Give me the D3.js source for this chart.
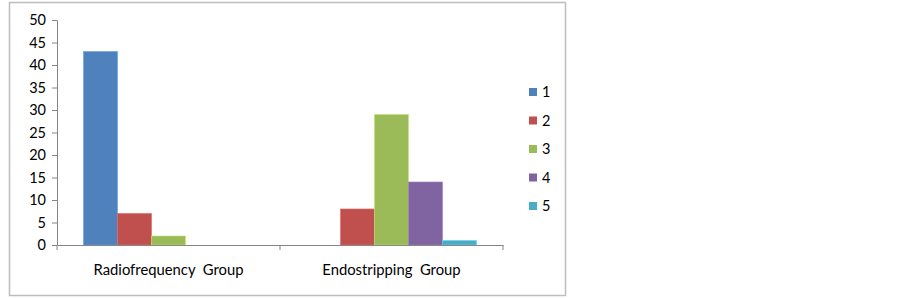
<!DOCTYPE html>
<html><head><meta charset="utf-8">
<script src="https://cdn.jsdelivr.net/npm/d3@7"></script>
<style>body{margin:0;background:#fff}svg{display:block}text{font-family:Lato,"Open Sans",sans-serif;fill:#000}</style>
</head><body><svg id="c" width="902" height="298"></svg>
<script>
const categories = ["Radiofrequency  Group", "Endostripping  Group"];
const seriesNames = ["1", "2", "3", "4", "5"];
const series1 = [43, 0];
const series2 = [7, 8];
const series3 = [2, 29];
const series4 = [0, 14];
const series5 = [0, 1];
const yTicks = [0, 5, 10, 15, 20, 25, 30, 35, 40, 45, 50];
const colors = ["#4F81BD", "#C0504D", "#9BBB59", "#8064A2", "#4BACC6"];
const allSeries = [series1, series2, series3, series4, series5];

(function () {
const svg = d3.select("#c");
svg.append("rect").attr("x", 9.5).attr("y", 2.5).attr("width", 556).attr("height", 293)
  .attr("fill", "#fff").attr("stroke", "#BDBDBD").attr("stroke-width", 1.5);

const pLeft = 57, pRight = 503, pTop = 20, pBottom = 245;
const x0 = d3.scaleBand().domain(categories).range([pLeft, pRight]).paddingInner(0).paddingOuter(0);
const x1 = d3.scaleBand().domain(seriesNames).range([0, x0.bandwidth()]).paddingInner(0).paddingOuter(0.78);
const y = d3.scaleLinear().domain([0, 50]).range([pBottom, pTop]);

const g = svg.append("g");
categories.forEach((c, ci) => {
  allSeries.forEach((s, si) => {
    if (s[ci] <= 0) return;
    g.append("rect")
      .attr("x", x0(c) + x1(seriesNames[si]))
      .attr("y", y(s[ci]))
      .attr("width", x1.bandwidth())
      .attr("height", y(0) - y(s[ci]))
      .attr("fill", colors[si])
      .attr("stroke", d3.color(colors[si]).brighter(0.6))
      .attr("stroke-width", 0.6);
  });
});

const yAxis = svg.append("g").attr("transform", `translate(${pLeft},0)`)
  .call(d3.axisLeft(y).tickValues(yTicks).tickSize(5).tickPadding(6));
yAxis.select(".domain").attr("stroke", "#868686");
yAxis.selectAll(".tick line").attr("stroke", "#868686");
yAxis.selectAll("text").attr("font-size", 14.5).style("font-family", "Lato, 'Open Sans', sans-serif");

const xAxis = svg.append("g").attr("transform", `translate(0,${pBottom})`)
  .call(d3.axisBottom(x0).tickSize(0).tickFormat(""));
xAxis.select(".domain").attr("stroke", "#868686");
xAxis.selectAll(".tick").remove();
[pLeft, pLeft + x0.bandwidth(), pRight].forEach(xx => {
  xAxis.append("line").attr("x1", xx).attr("x2", xx).attr("y1", 0).attr("y2", 5).attr("stroke", "#868686");
});
categories.forEach(c => {
  svg.append("text").attr("x", x0(c) + x0.bandwidth() / 2).attr("y", 275)
    .attr("text-anchor", "middle").attr("font-size", 14.8).style("white-space", "pre")
    .text(c);
});

const legY = d3.scalePoint().domain(seriesNames).range([92, 206]);
seriesNames.forEach((n, i) => {
  svg.append("rect").attr("x", 529).attr("y", legY(n) - 4).attr("width", 8).attr("height", 8).attr("fill", colors[i]);
  svg.append("text").attr("x", 542).attr("y", legY(n)).attr("dy", "0.35em").attr("font-size", 14.5).text(n);
});
})();
</script></body></html>
